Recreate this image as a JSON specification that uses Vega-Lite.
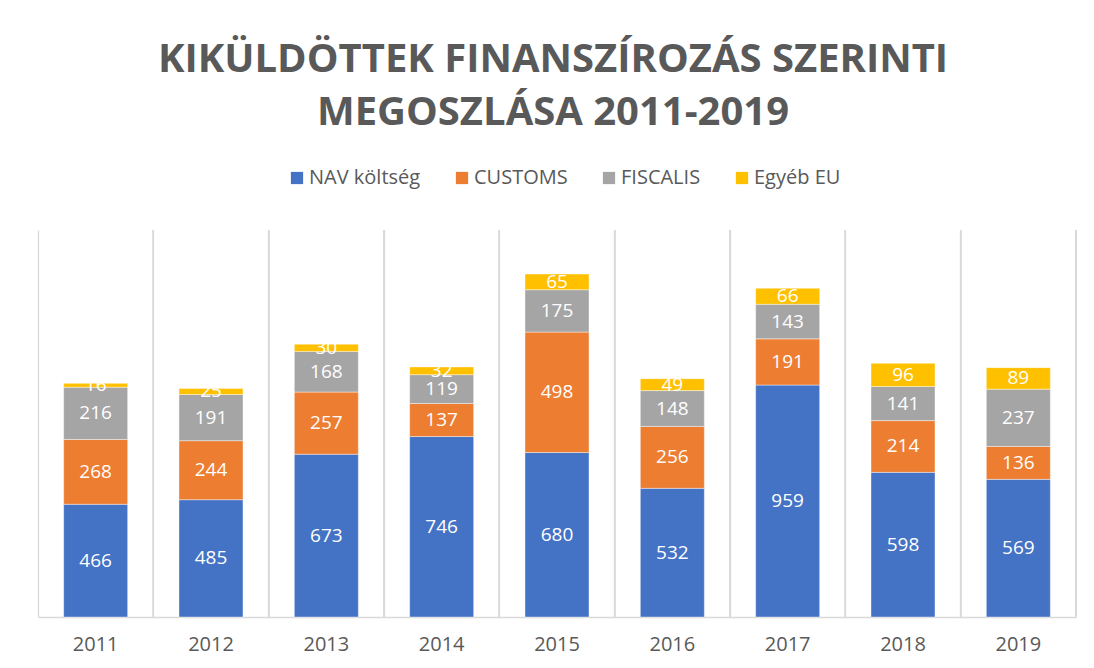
{
  "$schema": "https://vega.github.io/schema/vega-lite/v6.json",
  "autosize": "none",
  "width": 1038,
  "height": 387,
  "padding": {"left": 38, "top": 230, "right": 18, "bottom": 51},
  "background": "white",
  "title": {
    "text": ["KIKÜLDÖTTEK FINANSZÍROZÁS SZERINTI", "MEGOSZLÁSA 2011-2019"],
    "font": "Open Sans",
    "fontSize": 40,
    "fontWeight": "bold",
    "color": "#595959",
    "lineHeight": 53,
    "anchor": "middle",
    "dx": -4,
    "offset": 35
  },
  "data": {
    "values": [
      {"year": "2011", "series": "NAV költség", "order": 1, "value": 466},
      {"year": "2011", "series": "CUSTOMS", "order": 2, "value": 268},
      {"year": "2011", "series": "FISCALIS", "order": 3, "value": 216},
      {"year": "2011", "series": "Egyéb EU", "order": 4, "value": 16},
      {"year": "2012", "series": "NAV költség", "order": 1, "value": 485},
      {"year": "2012", "series": "CUSTOMS", "order": 2, "value": 244},
      {"year": "2012", "series": "FISCALIS", "order": 3, "value": 191},
      {"year": "2012", "series": "Egyéb EU", "order": 4, "value": 25},
      {"year": "2013", "series": "NAV költség", "order": 1, "value": 673},
      {"year": "2013", "series": "CUSTOMS", "order": 2, "value": 257},
      {"year": "2013", "series": "FISCALIS", "order": 3, "value": 168},
      {"year": "2013", "series": "Egyéb EU", "order": 4, "value": 30},
      {"year": "2014", "series": "NAV költség", "order": 1, "value": 746},
      {"year": "2014", "series": "CUSTOMS", "order": 2, "value": 137},
      {"year": "2014", "series": "FISCALIS", "order": 3, "value": 119},
      {"year": "2014", "series": "Egyéb EU", "order": 4, "value": 32},
      {"year": "2015", "series": "NAV költség", "order": 1, "value": 680},
      {"year": "2015", "series": "CUSTOMS", "order": 2, "value": 498},
      {"year": "2015", "series": "FISCALIS", "order": 3, "value": 175},
      {"year": "2015", "series": "Egyéb EU", "order": 4, "value": 65},
      {"year": "2016", "series": "NAV költség", "order": 1, "value": 532},
      {"year": "2016", "series": "CUSTOMS", "order": 2, "value": 256},
      {"year": "2016", "series": "FISCALIS", "order": 3, "value": 148},
      {"year": "2016", "series": "Egyéb EU", "order": 4, "value": 49},
      {"year": "2017", "series": "NAV költség", "order": 1, "value": 959},
      {"year": "2017", "series": "CUSTOMS", "order": 2, "value": 191},
      {"year": "2017", "series": "FISCALIS", "order": 3, "value": 143},
      {"year": "2017", "series": "Egyéb EU", "order": 4, "value": 66},
      {"year": "2018", "series": "NAV költség", "order": 1, "value": 598},
      {"year": "2018", "series": "CUSTOMS", "order": 2, "value": 214},
      {"year": "2018", "series": "FISCALIS", "order": 3, "value": 141},
      {"year": "2018", "series": "Egyéb EU", "order": 4, "value": 96},
      {"year": "2019", "series": "NAV költség", "order": 1, "value": 569},
      {"year": "2019", "series": "CUSTOMS", "order": 2, "value": 136},
      {"year": "2019", "series": "FISCALIS", "order": 3, "value": 237},
      {"year": "2019", "series": "Egyéb EU", "order": 4, "value": 89}
    ]
  },
  "transform": [
    {"stack": "value", "groupby": ["year"], "sort": [{"field": "order", "order": "ascending"}], "as": ["v0", "v1"]},
    {"calculate": "(datum.v0 + datum.v1) / 2", "as": "mid"}
  ],
  "encoding": {
    "x": {
      "field": "year",
      "type": "ordinal",
      "scale": {"paddingInner": 0, "paddingOuter": 0},
      "axis": {
        "title": null,
        "labelAngle": 0,
        "labelFont": "Open Sans",
        "labelFontSize": 20,
        "labelColor": "#595959",
        "labelPadding": 17,
        "ticks": false,
        "domainColor": "#d9d9d9",
        "domainWidth": 1.3,
        "grid": true,
        "gridColor": "#d9d9d9",
        "gridWidth": 1.3,
        "bandPosition": 0
      }
    }
  },
  "layer": [
    {
      "mark": {"type": "rule", "color": "#d9d9d9", "strokeWidth": 1.3},
      "encoding": {
        "x": {"field": "year", "type": "ordinal", "bandPosition": 1}
      }
    },
    {
      "mark": {"type": "bar", "width": {"band": 0.555}, "stroke": "white", "strokeWidth": 0.6, "strokeOpacity": 0.7},
      "encoding": {
        "y": {"field": "v0", "type": "quantitative", "scale": {"domain": [0, 1600], "nice": false}, "axis": null},
        "y2": {"field": "v1"},
        "color": {
          "field": "series",
          "type": "nominal",
          "scale": {
            "domain": ["NAV költség", "CUSTOMS", "FISCALIS", "Egyéb EU"],
            "range": ["#4472C4", "#ED7D31", "#A5A5A5", "#FFC000"]
          },
          "legend": {
            "title": null,
            "orient": "none",
            "direction": "horizontal",
            "legendX": 249,
            "legendY": -62,
            "symbolType": "square",
            "symbolSize": 150,
            "symbolStrokeWidth": 0,
            "labelFont": "Open Sans",
            "labelFontSize": 20,
            "labelColor": "#595959",
            "labelOffset": 2,
            "columnPadding": 31
          }
        }
      }
    },
    {
      "mark": {"type": "text", "color": "white", "font": "Open Sans", "fontSize": 19, "align": "center", "baseline": "middle"},
      "encoding": {
        "y": {"field": "mid", "type": "quantitative"},
        "text": {"field": "value", "type": "quantitative"}
      }
    }
  ],
  "config": {
    "view": {"stroke": null}
  }
}
